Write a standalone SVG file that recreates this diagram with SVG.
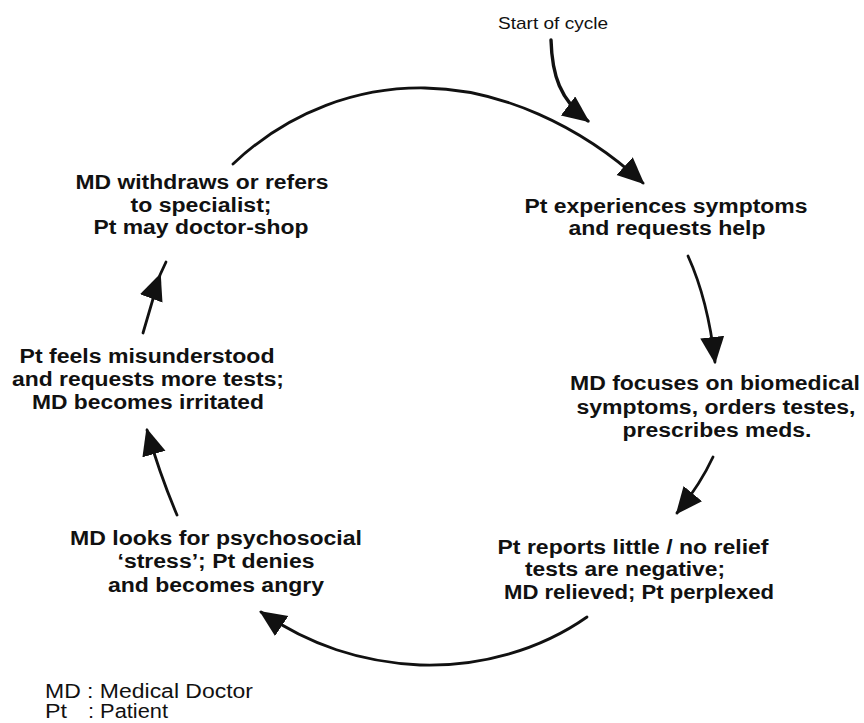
<svg xmlns="http://www.w3.org/2000/svg" width="864" height="723" viewBox="0 0 864 723">
<style>
  .n { font-family: "Liberation Sans", Arial, Helvetica, sans-serif; font-weight: bold; font-size: 20px; fill: #111; text-anchor: middle; }
  .r { font-family: "Liberation Sans", Arial, Helvetica, sans-serif; font-size: 20px; fill: #111; }
  .c { fill: none; stroke: #111; stroke-width: 2.8; stroke-linecap: round; }
</style>
<defs>
  <marker id="ah" markerUnits="userSpaceOnUse" markerWidth="30" markerHeight="26" refX="25" refY="12" orient="auto">
    <path d="M0,0 L27,12 L0,24 Z" fill="#111"/>
  </marker>
</defs>
<rect width="864" height="723" fill="#fff"/>

<g id="connectors">
  <path class="c" style="stroke-width:3.4" d="M551,40 C552,75 560,100 588,121" marker-end="url(#ah)"/>
  <path class="c" d="M233,164 C290,110 360,87 425,88 C500,89 580,125 643,183" marker-end="url(#ah)"/>
  <path class="c" d="M688,256 Q708,300 715,362" marker-end="url(#ah)"/>
  <path class="c" d="M713,457 Q700,485 677,513" marker-end="url(#ah)"/>
  <path class="c" d="M587,617 C540,650 480,667 420,665 C360,662 310,645 261,612" marker-end="url(#ah)"/>
  <path class="c" d="M177,515 Q160,475 147,430" marker-end="url(#ah)"/>
  <path class="c" d="M143,333 L160,275 L166,262" marker-mid="url(#ah)"/>
</g>

<g id="start">
  <text class="r" x="553" y="29" text-anchor="middle" textLength="110" lengthAdjust="spacingAndGlyphs" style="font-size:17px">Start of cycle</text>
</g>

<g id="node-symptoms">
  <text class="n" x="666" y="213" textLength="283" lengthAdjust="spacingAndGlyphs">Pt experiences symptoms</text>
  <text class="n" x="667" y="235" textLength="197" lengthAdjust="spacingAndGlyphs">and requests help</text>
</g>

<g id="node-biomedical">
  <text class="n" x="715" y="390" textLength="290" lengthAdjust="spacingAndGlyphs">MD focuses on biomedical</text>
  <text class="n" x="716" y="414" textLength="279" lengthAdjust="spacingAndGlyphs">symptoms, orders testes,</text>
  <text class="n" x="717" y="437" textLength="189" lengthAdjust="spacingAndGlyphs">prescribes meds.</text>
</g>

<g id="node-norelief">
  <text class="n" x="633" y="554" textLength="271" lengthAdjust="spacingAndGlyphs">Pt reports little / no relief</text>
  <text class="n" x="625" y="576" textLength="200" lengthAdjust="spacingAndGlyphs">tests are negative;</text>
  <text class="n" x="639" y="599" textLength="270" lengthAdjust="spacingAndGlyphs">MD relieved; Pt perplexed</text>
</g>

<g id="node-psychosocial">
  <text class="n" x="216" y="545" textLength="292" lengthAdjust="spacingAndGlyphs">MD looks for psychosocial</text>
  <text class="n" x="216" y="568" textLength="197" lengthAdjust="spacingAndGlyphs">‘stress’; Pt denies</text>
  <text class="n" x="216" y="592" textLength="216" lengthAdjust="spacingAndGlyphs">and becomes angry</text>
</g>

<g id="node-misunderstood">
  <text class="n" x="147" y="363" textLength="255" lengthAdjust="spacingAndGlyphs">Pt feels misunderstood</text>
  <text class="n" x="148" y="386" textLength="272" lengthAdjust="spacingAndGlyphs">and requests more tests;</text>
  <text class="n" x="148" y="409" textLength="232" lengthAdjust="spacingAndGlyphs">MD becomes irritated</text>
</g>

<g id="node-withdraws">
  <text class="n" x="202" y="189" textLength="253" lengthAdjust="spacingAndGlyphs">MD withdraws or refers</text>
  <text class="n" x="201" y="212" textLength="141" lengthAdjust="spacingAndGlyphs">to specialist;</text>
  <text class="n" x="201" y="234" textLength="215" lengthAdjust="spacingAndGlyphs">Pt may doctor-shop</text>
</g>

<g id="legend">
  <text class="r" x="45" y="698" textLength="208" lengthAdjust="spacingAndGlyphs">MD : Medical Doctor</text>
  <text class="r" x="45" y="718" textLength="22" lengthAdjust="spacingAndGlyphs">Pt</text>
  <text class="r" x="88" y="718" textLength="80" lengthAdjust="spacingAndGlyphs">: Patient</text>
</g>
</svg>
